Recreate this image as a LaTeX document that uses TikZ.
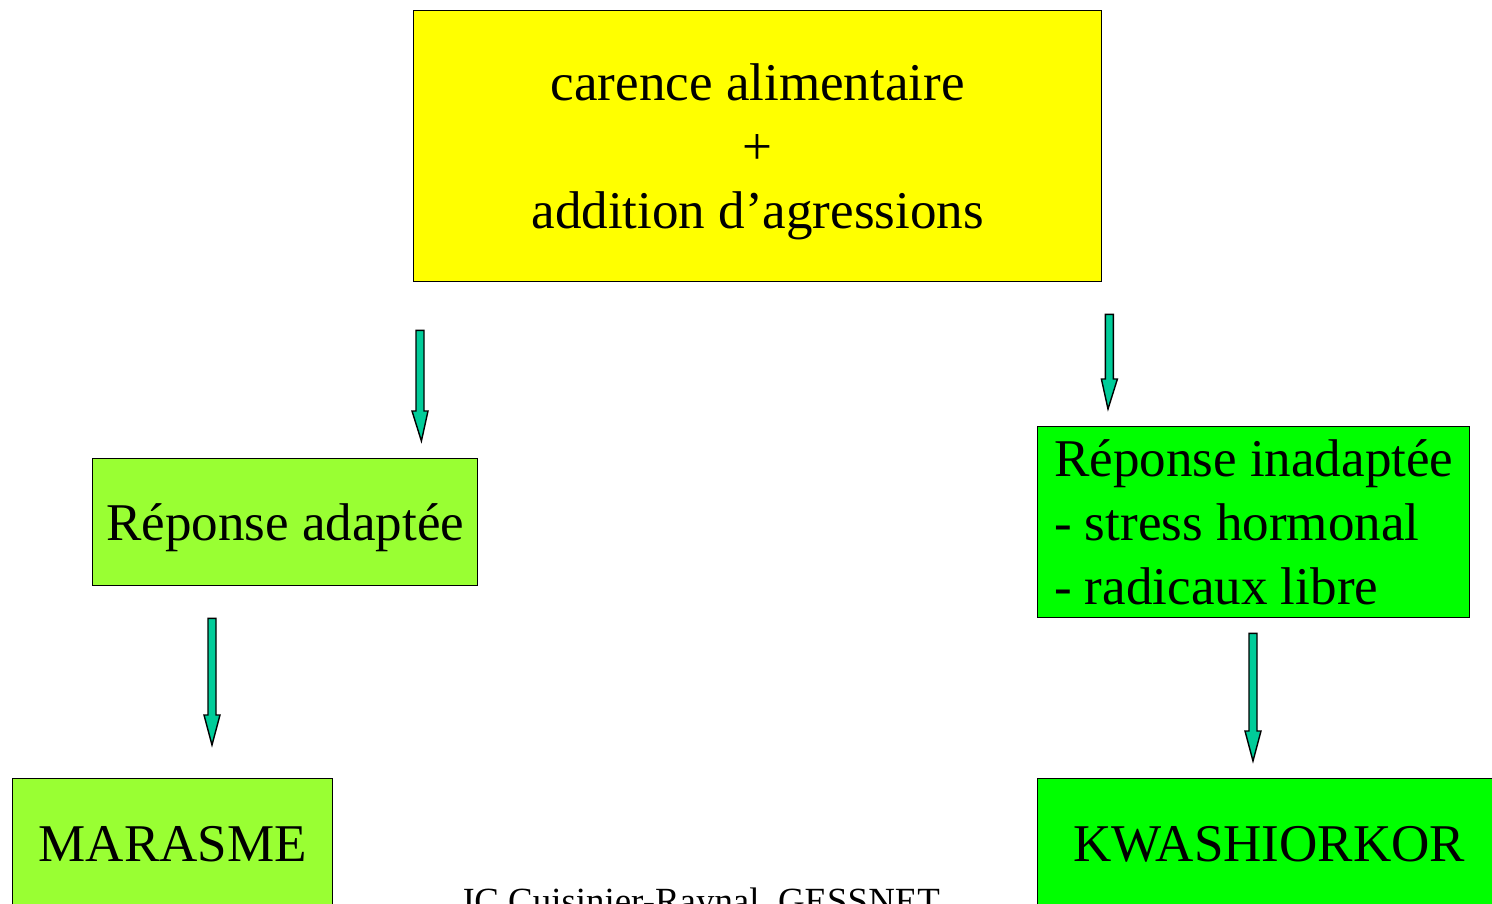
\documentclass[tikz,border=0pt]{standalone}
\usepackage{fontspec}
\setmainfont{Liberation Serif}
\usepackage{tikz}
\usetikzlibrary{
    positioning,
    calc
}
\definecolor{Cjaune}{RGB}{255, 255, 0}
\definecolor{Cvertclair}{RGB}{153, 255, 51}
\definecolor{Cvert}{RGB}{0, 255, 0}
\definecolor{Cfleche}{RGB}{0, 204, 153}
\tikzset{
    cboite/.style={
        rectangle, draw=black, line width=0.8pt,
        text=black, align=center, inner sep=4pt, text depth=0pt,
        font=\fontsize{30.2}{36.4}\selectfont
    },
    cfleche/.style={draw=black, fill=Cfleche, line width=0.8pt, line join=miter},
}
% flèche pleine (bloc) entre deux points nommés, pointe vers le bas
\newcommand{\flechebloc}[2]{%
    \path[cfleche] let \p1=(#1), \p2=(#2) in
        (\x1-0.08cm,\y1) -- (\x1+0.08cm,\y1) -- (\x1+0.08cm,\y2+0.6cm)
        -- (\x1+0.16cm,\y2+0.6cm) -- (\x2,\y2) -- (\x1-0.16cm,\y2+0.6cm)
        -- (\x1-0.08cm,\y2+0.6cm) -- cycle;
}

\begin{document}
\begin{tikzpicture}

    \path[use as bounding box] (0,0) rectangle (29.84,-18.06);
    \clip (0,0) rectangle (29.84,-18.06);

    % ── en haut : la cause ────────────────────────────────
    \node [cboite, fill=Cjaune, anchor=north west, minimum width=13.76cm, minimum height=5.42cm]
        (haut) at (8.26,-0.20) {carence alimentaire\\+\\addition d’agressions};

    % ── milieu : les deux réponses ────────────────────────
    \node [cboite, fill=Cvertclair, anchor=north west, minimum width=7.70cm, minimum height=2.54cm]
        (adaptee) at (1.84,-9.16) {Réponse adaptée};
    \node [cboite, fill=Cvert, anchor=north west, align=left, minimum width=8.64cm, minimum height=3.82cm]
        (inadaptee) at (20.74,-8.52) {Réponse inadaptée\\- stress hormonal\\- radicaux libre};

    % ── en bas : les deux issues (coupées par le bord) ────
    \node [cboite, fill=Cvertclair, anchor=north west, minimum width=6.40cm, minimum height=2.60cm]
        (marasme) at (0.24,-15.56) {MARASME};
    \node [cboite, fill=Cvert, anchor=north west, minimum width=9.26cm, minimum height=2.60cm]
        (kwashiorkor) at (20.74,-15.56) {KWASHIORKOR};

    \node [font=\fontsize{21}{25}\selectfont, anchor=base]
        (signature) at (14.0,-18.26) {JC Cuisinier-Raynal, GESSNET};

    % ── flèches ───────────────────────────────────────────
    \coordinate (f1a) at ($(haut.south west)+(0.14,-0.96)$);
    \coordinate (f1b) at ($(adaptee.north east)+(-1.14,0.34)$);
    \coordinate (f2a) at ($(haut.south east)+(0.14,-0.64)$);
    \coordinate (f2b) at ($(inadaptee.north west)+(1.42,0.34)$);
    \coordinate (f3a) at ($(adaptee.south west)+(2.40,-0.64)$);
    \coordinate (f3b) at ($(marasme.north west)+(4.00,0.66)$);
    \coordinate (f4a) at ($(inadaptee.south west)+(4.32,-0.30)$);
    \coordinate (f4b) at ($(kwashiorkor.north west)+(4.32,0.34)$);

    \flechebloc{f1a}{f1b}
    \flechebloc{f2a}{f2b}
    \flechebloc{f3a}{f3b}
    \flechebloc{f4a}{f4b}

\end{tikzpicture}
\end{document}
